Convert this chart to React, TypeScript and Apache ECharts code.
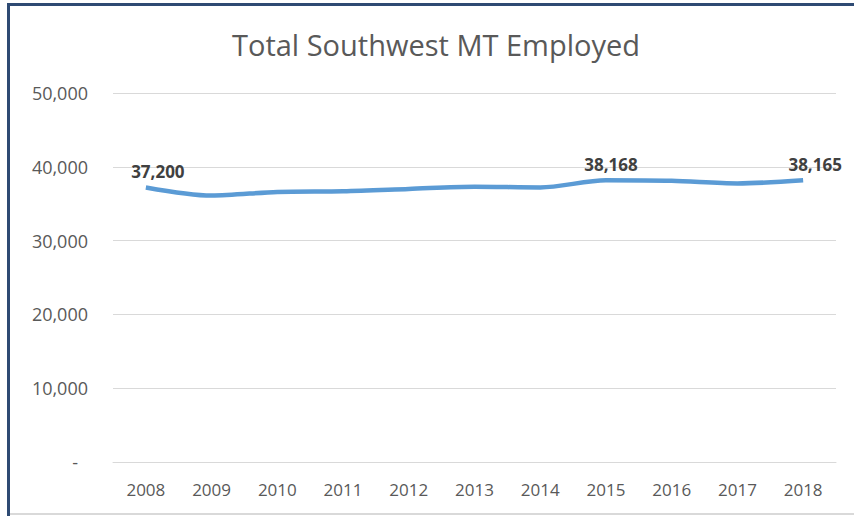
import React, { useEffect, useRef } from "react";
import * as echarts from "echarts";

const years = ["2008", "2009", "2010", "2011", "2012", "2013", "2014", "2015", "2016", "2017", "2018"];
const employed = [37200, 36100, 36600, 36700, 37000, 37300, 37200, 38168, 38100, 37750, 38165];
const labeledIdx = [0, 7, 10];
const yTicks = [0, 10000, 20000, 30000, 40000, 50000];

export default function App() {
  const ref = useRef<HTMLDivElement>(null);
  useEffect(() => {
    if (!ref.current) return;
    const chart = echarts.init(ref.current, null, { renderer: "svg" });
    const font = "'Open Sans', sans-serif";
    chart.setOption({
      animation: false,
      backgroundColor: "#ffffff",
      title: {
        text: "Total Southwest MT Employed",
        left: 431,
        textAlign: "center",
        top: 25,
        textStyle: { fontFamily: font, fontSize: 29, fontWeight: "normal", color: "#595959" },
      },
      grid: { left: 113, right: 18, top: 93, bottom: 54 },
      xAxis: {
        type: "category",
        data: years,
        boundaryGap: true,
        axisLine: { lineStyle: { color: "#d9d9d9", width: 1 } },
        axisTick: { show: false },
        axisLabel: { fontFamily: font, fontSize: 17, color: "#595959", margin: 19 },
      },
      yAxis: {
        type: "value",
        min: yTicks[0],
        max: yTicks[yTicks.length - 1],
        interval: 10000,
        axisLine: { show: false },
        axisTick: { show: false },
        splitLine: { lineStyle: { color: "#d9d9d9", width: 1 } },
        axisLabel: {
          fontFamily: font,
          fontSize: 18,
          color: "#595959",
          margin: 25,
          formatter: (v: number) => (v === 0 ? "{d|-}" : v.toLocaleString("en-US")),
          rich: { d: { fontFamily: font, fontSize: 18, color: "#595959", padding: [0, 10, 0, 0] } },
        },
      },
      series: [
        {
          type: "line",
          smooth: 0.3,
          symbol: "circle",
          symbolSize: 1,
          showSymbol: true,
          itemStyle: { color: "rgba(0,0,0,0)", borderWidth: 0 },
          lineStyle: { color: "#5b9bd5", width: 4.5 },
          label: {
            show: false,
            position: "top",
            distance: 7,
            fontFamily: font,
            fontSize: 17,
            fontWeight: "bold",
            color: "#404040",
            formatter: (p: any) => Number(p.value).toLocaleString("en-US"),
          },
          data: employed.map((v, i) => ({
            value: v,
            label: {
              show: labeledIdx.includes(i),
              offset: [i === 7 ? 5 : 12, 0],
            },
          })),
        },
      ],
      graphic: [
        { type: "rect", shape: { x: 7, y: 3, width: 3, height: 513 }, style: { fill: "#2e4a73" }, silent: true },
        { type: "rect", shape: { x: 7, y: 3, width: 847, height: 3 }, style: { fill: "#2e4a73" }, silent: true },
        { type: "rect", shape: { x: 10, y: 513, width: 844, height: 2 }, style: { fill: "#d9d9d9" }, silent: true },
      ],
    });
    return () => chart.dispose();
  }, []);
  return (
    <div
      ref={ref}
      style={{ position: "fixed", left: 0, top: 0, width: 854, height: 516 }}
    />
  );
}
